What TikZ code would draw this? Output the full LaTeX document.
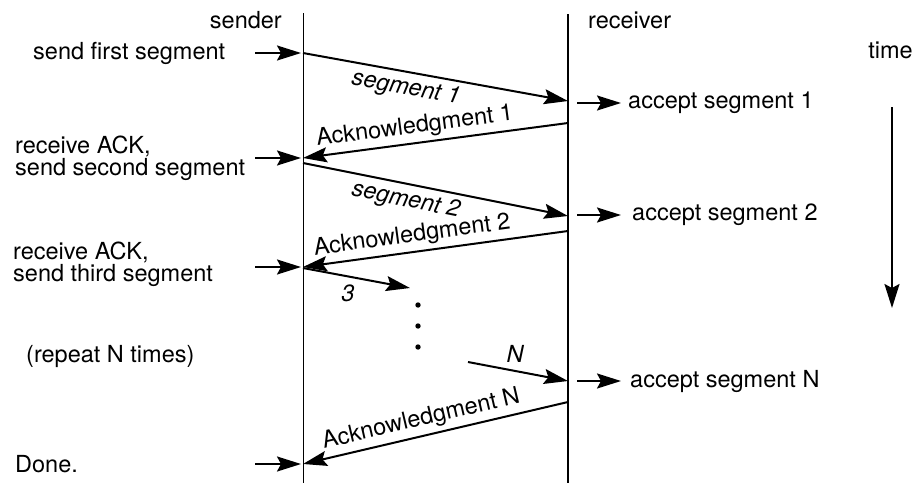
\documentclass[tikz,border=0pt]{standalone}
\usepackage{fontspec}
\setmainfont{TeX Gyre Heros}
\usetikzlibrary{arrows.meta}

\begin{document}
\begin{tikzpicture}[x=1pt, y=-1pt,
  every node/.style={font=\fontsize{23.5}{19}\selectfont, inner sep=2pt},
  msg/.style={-{Stealth[length=24pt, width=15pt, inset=4pt]}, line width=2pt},
  lbl/.style={font=\fontsize{23.5}{19}\selectfont\itshape}]
  \useasboundingbox (0,0) rectangle (916,483);

  % Lifelines
  \coordinate (sTop) at (303,13);
  \coordinate (sBot) at (303,483);
  \coordinate (rTop) at (568,14);
  \coordinate (rBot) at (568,483);
  \draw[line width=0.9pt] (sTop) -- (sBot);
  \draw[line width=2.2pt] (rTop) -- (rBot);
  \node[anchor=base east] (sender) at (284,28) {sender};
  \node[anchor=base west] (receiver) at (586,28) {receiver};

  % Points on the lifelines
  \coordinate (s1) at (303,53);
  \coordinate (r1) at (568,101);
  \coordinate (r2) at (568,123);
  \coordinate (s2) at (303,158);
  \coordinate (s3) at (303,163);
  \coordinate (r3) at (568,216);
  \coordinate (r4) at (568,231);
  \coordinate (s4) at (303,267);
  \coordinate (s5) at (303,268);
  \coordinate (d3) at (410,288);
  \coordinate (dN) at (468,362);
  \coordinate (r5) at (568,381);
  \coordinate (r6) at (568,402);
  \coordinate (s6) at (303,464);

  % Sender side events
  \node[anchor=base west] (first) at (31,59) {send first segment};
  \node[anchor=base west, align=left] (second) at (13,175) {receive ACK,\\send second segment};
  \node[anchor=base west, align=left] (third) at (11,281) {receive ACK,\\send third segment};
  \node[anchor=base west] (repeat) at (24,362) {(repeat N times)};
  \node[anchor=base west] (done) at (13,472) {Done.};
  \foreach \y/\n in {53/a,158/b,267/c,464/d} {
    \coordinate (in\n) at (255,\y);
    \coordinate (at\n) at (301,\y);
    \draw[msg] (in\n) -- (at\n);
  }

  % Receiver side events
  \node[anchor=base west] (acc1) at (626,108) {accept segment 1};
  \node[anchor=base west] (acc2) at (630,220) {accept segment 2};
  \node[anchor=base west] (accN) at (628,387) {accept segment N};
  \foreach \y/\n in {103/a,215/b,381/c} {
    \coordinate (out\n) at (577,\y);
    \coordinate (to\n) at (621,\y);
    \draw[msg] (out\n) -- (to\n);
  }

  % Segments and acknowledgments
  \draw[msg] (s1) -- node[lbl, sloped, below=3pt, pos=0.4] (seg1) {segment 1} (r1);
  \draw[msg] (r2) -- node[sloped, above=2pt, pos=0.57] (ack1) {Acknowledgment 1} (s2);
  \draw[msg] (s3) -- node[lbl, sloped, below=3pt, pos=0.4] (seg2) {segment 2} (r3);
  \draw[msg] (r4) -- node[sloped, above=2pt, pos=0.58] (ack2) {Acknowledgment 2} (s4);
  \draw[msg] (s5) -- node[lbl, below=5pt, pos=0.42] (seg3) {3} (d3);
  \draw[msg] (dN) -- node[lbl, above=5pt, pos=0.47] (segN) {N} (r5);
  \draw[msg] (r6) -- node[sloped, above=2pt, pos=0.54] (ackN) {Acknowledgment N} (s6);

  % Dots
  \foreach \y in {305,326,347}
    \fill (418,\y) circle (2.7);

  % Time axis
  \node[anchor=base east] (time) at (915,58) {time};
  \coordinate (tTop) at (892,107);
  \coordinate (tBot) at (892,308);
  \draw[msg] (tTop) -- (tBot);
\end{tikzpicture}
\end{document}
